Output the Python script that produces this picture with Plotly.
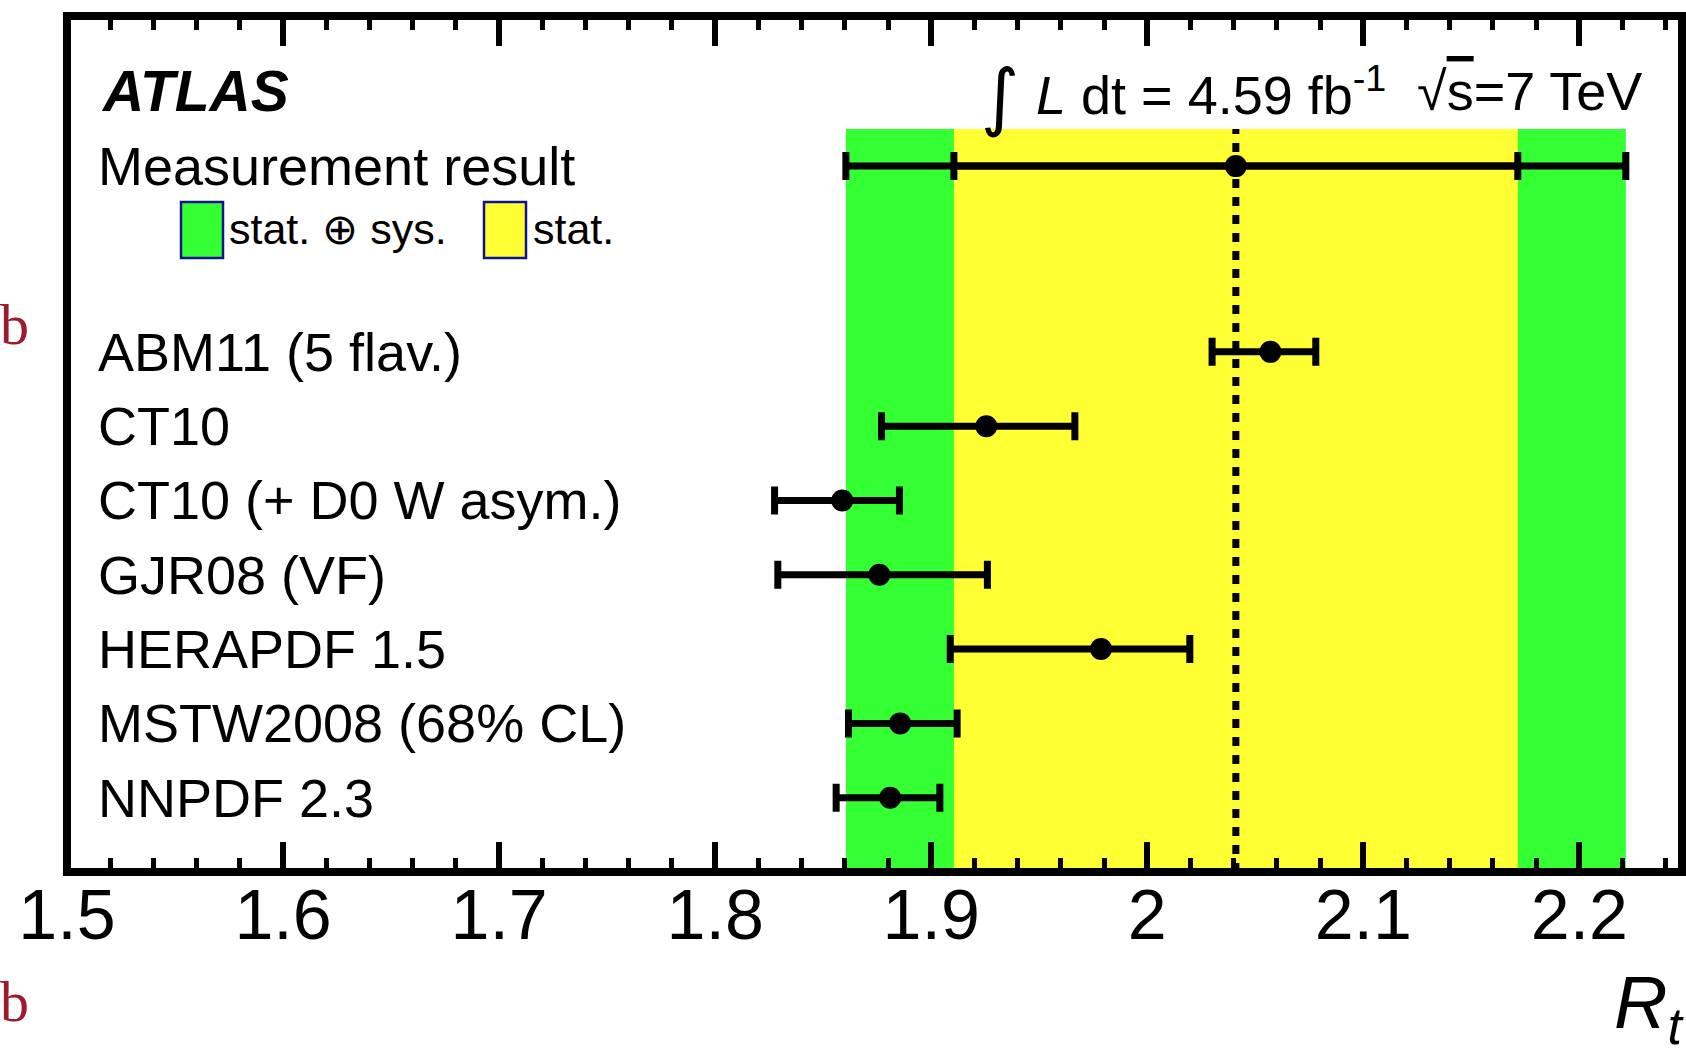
import plotly.graph_objects as go

# ---------------- data ----------------
models = ["ABM11 (5 flav.)", "CT10", "CT10 (+ D0 W asym.)", "GJR08 (VF)",
          "HERAPDF 1.5", "MSTW2008 (68% CL)", "NNPDF 2.3"]
pred_val = [2.057, 1.9255, 1.8588, 1.876, 1.9786, 1.8856, 1.881]
pred_lo = [2.030, 1.877, 1.8275, 1.829, 1.9088, 1.8617, 1.856]
pred_hi = [2.078, 1.9665, 1.8853, 1.926, 2.0197, 1.912, 1.904]

meas_label = "Measurement result"
meas_val = 2.041
meas_stat = 0.1305
meas_tot = 0.1805

x_tickvals = [1.5, 1.6, 1.7, 1.8, 1.9, 2.0, 2.1, 2.2]
x_ticktext = ["1.5", "1.6", "1.7", "1.8", "1.9", "2", "2.1", "2.2"]

# ---------------- layout geometry ----------------
W, H = 1686, 1050
ML, MR, MT, MB = 67, 4, 16, 178
PW, PH = W - ML - MR, H - MT - MB
X_RANGE = [1.5, 2.2475]
Y_RANGE = [0, 11.52]

FONT = "Liberation Sans, Arial, Helvetica, sans-serif"
GREEN = "#33FF33"
YELLOW = "#FFFF33"


def px_x(p):
    return (p - ML) / PW


def px_y(p):
    return 1 - (p - MT) / PH


n = len(models)
rows_y = [n - i for i in range(n)]
meas_y = n + 2.5
band_top = n + 3

fig = go.Figure()

# bands
fig.add_shape(type="rect", xref="x", yref="y",
              x0=meas_val - meas_tot, x1=meas_val + meas_tot, y0=0, y1=band_top,
              fillcolor=GREEN, line=dict(width=0), layer="below")
fig.add_shape(type="rect", xref="x", yref="y",
              x0=meas_val - meas_stat, x1=meas_val + meas_stat, y0=0, y1=band_top,
              fillcolor=YELLOW, line=dict(width=0), layer="below")
fig.add_shape(type="line", xref="x", yref="y",
              x0=meas_val, x1=meas_val, y0=0, y1=band_top,
              line=dict(color="black", width=7, dash="9px,9px"), layer="below")

ERR = dict(color="black", thickness=7, width=14)

# measurement error bars (total and stat)
fig.add_trace(go.Scatter(
    x=[meas_val], y=[meas_y], mode="markers",
    marker=dict(size=1, color="rgba(0,0,0,0)"),
    error_x=dict(type="data", array=[meas_tot], arrayminus=[meas_tot], **ERR),
    showlegend=False, hoverinfo="skip"))
fig.add_trace(go.Scatter(
    x=[meas_val], y=[meas_y], mode="markers",
    marker=dict(size=22, color="black"),
    error_x=dict(type="data", array=[meas_stat], arrayminus=[meas_stat], **ERR),
    showlegend=False))

# predictions
fig.add_trace(go.Scatter(
    x=pred_val, y=rows_y, mode="markers",
    marker=dict(size=22, color="black"),
    error_x=dict(type="data",
                 array=[h - v for h, v in zip(pred_hi, pred_val)],
                 arrayminus=[v - l for l, v in zip(pred_lo, pred_val)], **ERR),
    showlegend=False, text=models))

# frame
fig.add_shape(type="rect", xref="paper", yref="paper", x0=0, x1=1, y0=0, y1=1,
              line=dict(color="black", width=8), layer="above")

annotations = []
# row labels
for m, yv in zip(models, rows_y):
    annotations.append(dict(xref="paper", yref="y", x=px_x(96), y=yv,
                            text=m, xanchor="left", yanchor="middle",
                            showarrow=False, font=dict(family=FONT, size=54, color="black")))
annotations.append(dict(xref="paper", yref="y", x=px_x(96), y=meas_y,
                        text=meas_label, xanchor="left", yanchor="middle",
                        showarrow=False, font=dict(family=FONT, size=54, color="black")))
# ATLAS
annotations.append(dict(xref="paper", yref="paper", x=px_x(99), y=px_y(91),
                        text="<b><i>ATLAS</i></b>", xanchor="left", yanchor="middle",
                        showarrow=False, font=dict(family=FONT, size=57, color="black")))
# luminosity
annotations.append(dict(xref="paper", yref="paper", x=px_x(1001), y=px_y(96),
                        text="∫", xanchor="center", yanchor="middle",
                        showarrow=False, font=dict(family="DejaVu Sans", size=74, color="black")))
annotations.append(dict(xref="paper", yref="paper", x=px_x(1034), y=px_y(91),
                        text="<i>L</i> dt = 4.59 fb<sup>-1</sup>", xanchor="left", yanchor="middle",
                        showarrow=False, font=dict(family=FONT, size=54, color="black")))
annotations.append(dict(xref="paper", yref="paper", x=px_x(1644), y=px_y(91),
                        text="√<span style='text-decoration:overline'>s</span>=7 TeV",
                        xanchor="right", yanchor="middle",
                        showarrow=False, font=dict(family=FONT, size=54, color="black")))
# legend texts
annotations.append(dict(xref="paper", yref="paper", x=px_x(227), y=px_y(229),
                        text="stat. ⊕ sys.", xanchor="left", yanchor="middle",
                        showarrow=False, font=dict(family=FONT, size=43, color="black")))
annotations.append(dict(xref="paper", yref="paper", x=px_x(531), y=px_y(229),
                        text="stat.", xanchor="left", yanchor="middle",
                        showarrow=False, font=dict(family=FONT, size=43, color="black")))
# axis title (clipped at right edge)
annotations.append(dict(xref="paper", yref="paper", x=px_x(1612), y=px_y(1008),
                        text="<i>R<sub>t</sub></i>", xanchor="left", yanchor="middle",
                        showarrow=False, font=dict(family=FONT, size=74, color="black")))
# stray page letters
for py in (324, 1001):
    annotations.append(dict(xref="paper", yref="paper", x=px_x(-2), y=px_y(py),
                            text="b", xanchor="left", yanchor="middle",
                            showarrow=False,
                            font=dict(family="Liberation Serif, Times New Roman, serif",
                                      size=58, color="#A01A2E")))

# legend boxes
for x0, col in ((181, GREEN), (484, YELLOW)):
    fig.add_shape(type="rect", xref="paper", yref="paper",
                  x0=px_x(x0), x1=px_x(x0 + 42), y0=px_y(258), y1=px_y(202),
                  fillcolor=col, line=dict(color="#12128a", width=2.5), layer="above")

fig.update_layout(
    width=W, height=H,
    margin=dict(l=ML, r=MR, t=MT, b=MB, pad=0),
    paper_bgcolor="white", plot_bgcolor="white",
    annotations=annotations,
    xaxis=dict(range=X_RANGE, tickmode="array", tickvals=x_tickvals, ticktext=x_ticktext,
               ticks="inside", ticklen=30, tickwidth=6, tickcolor="black",
               mirror="ticks", showline=False, showgrid=False, zeroline=False,
               ticklabelstandoff=-4,
               tickfont=dict(family=FONT, size=70, color="black"),
               minor=dict(tick0=1.5, dtick=0.02, ticks="inside", ticklen=14,
                          tickwidth=5, tickcolor="black", showgrid=False)),
    yaxis=dict(range=Y_RANGE, showticklabels=False, ticks="", showgrid=False,
               zeroline=False, showline=False),
)

fig.write_html(
    "out.html",
    config={"displayModeBar": False},
    post_script="document.body.style.margin='0';document.body.style.padding='0';"
                "document.body.style.overflow='hidden';",
)
